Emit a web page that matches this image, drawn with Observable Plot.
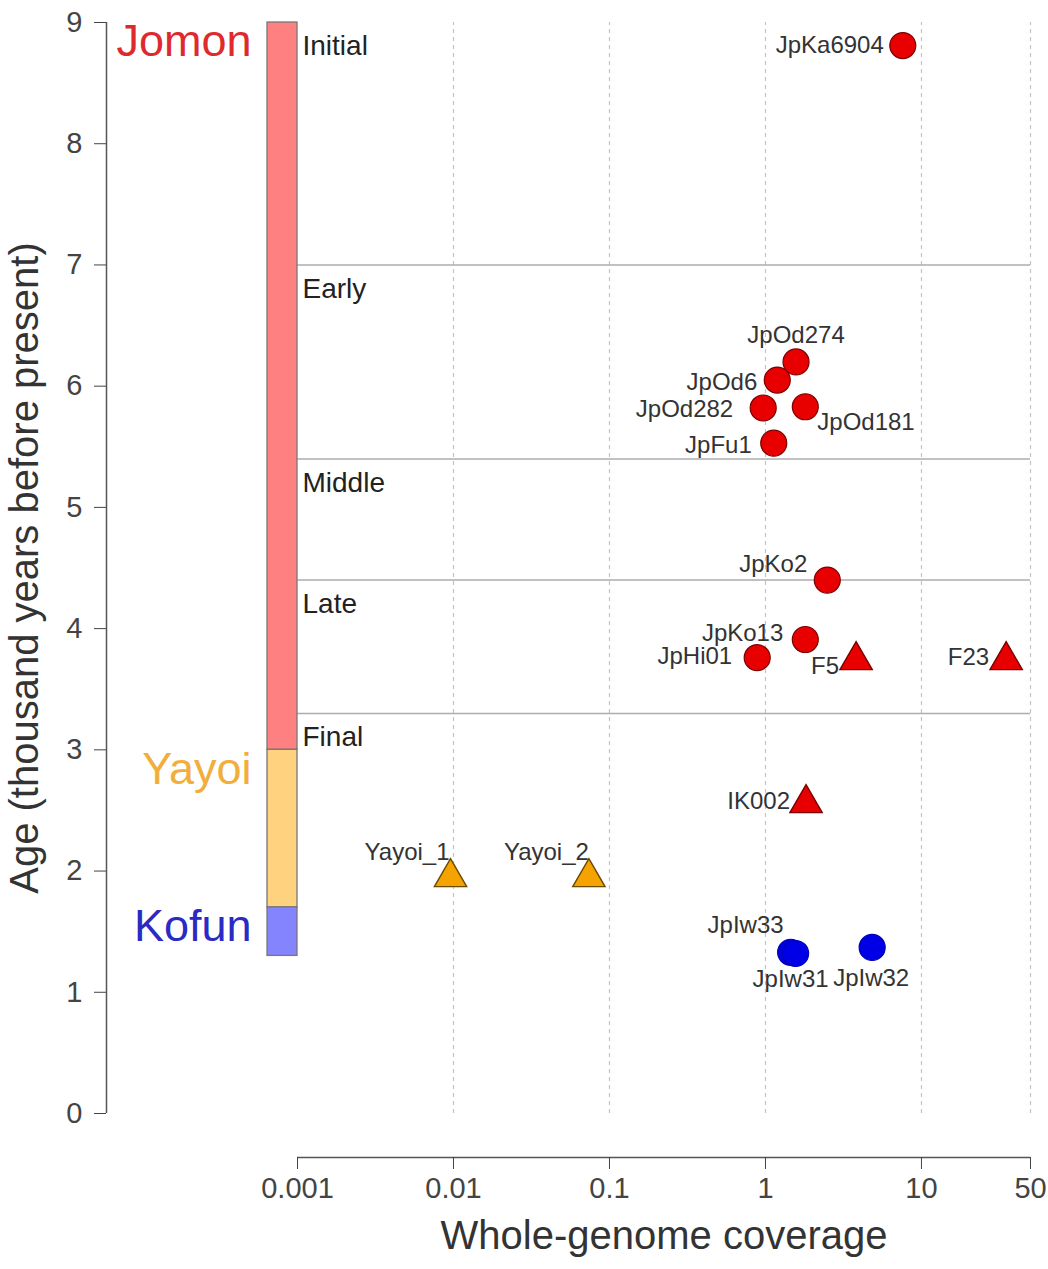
<!DOCTYPE html>
<html>
<head>
<meta charset="utf-8">
<script src="https://cdn.jsdelivr.net/npm/d3@7"></script>
<script src="https://cdn.jsdelivr.net/npm/@observablehq/plot@0.6"></script>
<style>
  html, body { margin: 0; padding: 0; background: #fff; }
  #chart { width: 1048px; height: 1269px; }
</style>
</head>
<body>
<div id="chart"></div>
<script>
// ---- data ----
const xTicks = [0.001, 0.01, 0.1, 1, 10, 50];
const yTicks = [0, 1, 2, 3, 4, 5, 6, 7, 8, 9];

const eraNames = ["Jomon", "Yayoi", "Kofun"];
const eraStart = [9, 3, 1.7];
const eraEnd = [3, 1.7, 1.3];

const phaseNames = ["Initial", "Early", "Middle", "Late", "Final"];
const phaseStart = [9, 7, 5.4, 4.4, 3.3];

const sampleNames = ["JpKa6904", "JpOd274", "JpOd6", "JpOd282", "JpOd181", "JpFu1",
  "JpKo2", "JpKo13", "JpHi01", "F5", "F23", "IK002",
  "Yayoi_1", "Yayoi_2", "JpIw33", "JpIw31", "JpIw32"];
const sampleCoverage = [7.59, 1.57, 1.19, 0.967, 1.80, 1.13,
  2.49, 1.80, 0.885, 3.81, 34.9, 1.82,
  0.00957, 0.0738, 1.45, 1.56, 4.83];
const sampleAge = [8.81, 6.20, 6.05, 5.82, 5.83, 5.53,
  4.40, 3.91, 3.76, 3.78, 3.78, 2.60,
  1.99, 1.99, 1.33, 1.32, 1.37];
const sampleCulture = ["Jomon", "Jomon", "Jomon", "Jomon", "Jomon", "Jomon",
  "Jomon", "Jomon", "Jomon", "Jomon", "Jomon", "Jomon",
  "Yayoi", "Yayoi", "Kofun", "Kofun", "Kofun"];
const sampleShape = ["circle", "circle", "circle", "circle", "circle", "circle",
  "circle", "circle", "circle", "triangle", "triangle", "triangle",
  "triangle", "triangle", "circle", "circle", "circle"];

// ---- styles / layout (kept apart from data) ----
const barFill = {Jomon: "#FF8080", Yayoi: "#FFD27F", Kofun: "#8484FF"};
const eraTextColor = {Jomon: "#DE2A2E", Yayoi: "#F2AE3C", Kofun: "#2A2AC4"};
const dotFill = {Jomon: "#E80000", Yayoi: "#F5A300", Kofun: "#0000E6"};
const dotStroke = {Jomon: "#7A0000", Yayoi: "#6A4A00", Kofun: "#0000B0"};
// [textAnchor, dx, dy]
const labelPlacement = {
  JpKa6904: ["end", -19, 0],
  JpOd274: ["middle", 0, -27],
  JpOd6: ["end", -20, 2],
  JpOd282: ["end", -30, 1],
  JpOd181: ["start", 12, 16],
  JpFu1: ["end", -22, 2],
  JpKo2: ["end", -20, -16],
  JpKo13: ["end", -22, -6],
  JpHi01: ["end", -25, -1],
  F5: ["end", -17, 11],
  F23: ["end", -17, 2],
  IK002: ["end", -16, 3],
  Yayoi_1: ["end", -1, -20],
  Yayoi_2: ["end", 0, -20],
  JpIw33: ["end", -7, -27],
  JpIw31: ["middle", -5, 26],
  JpIw32: ["middle", -1, 31]
};

const eras = eraNames.map((name, i) => ({name, start: eraStart[i], end: eraEnd[i]}));
const phases = phaseNames.map((name, i) => ({name, start: phaseStart[i]}));
const samples = sampleNames.map((name, i) => ({
  name, coverage: sampleCoverage[i], age: sampleAge[i],
  culture: sampleCulture[i], shape: sampleShape[i]
}));

const x0 = xTicks[0], xN = xTicks[xTicks.length - 1];
const y0 = yTicks[0], yN = yTicks[yTicks.length - 1];
const xMid = Math.sqrt(x0 * xN);
const yMid = (y0 + yN) / 2;

const labelMarks = samples.map(s => {
  const [anchor, dx, dy] = labelPlacement[s.name];
  return Plot.text([s], {
    x: "coverage", y: "age", text: "name",
    textAnchor: anchor, dx, dy, fontSize: 24, fill: "#333"
  });
});

const plot = Plot.plot({
  width: 1048,
  height: 1269,
  marginTop: 22,
  marginLeft: 106,
  marginRight: 18,
  marginBottom: 112,
  style: {fontFamily: "'Liberation Sans', Arial, sans-serif", background: "#fff", overflow: "visible"},
  x: {type: "log", domain: [x0, xN], range: [297, 1030]},
  y: {domain: [y0, yN], range: [1113, 22]},
  marks: [
    // dashed vertical grid
    Plot.ruleX(xTicks.slice(1), {y1: y0, y2: yN, stroke: "#c4c4c4", strokeWidth: 1.2, strokeDasharray: "4,4"}),
    // phase boundaries
    Plot.ruleY(phaseStart.slice(1), {x1: x0, x2: xN, stroke: "#adadad", strokeWidth: 1.5}),
    // era bar
    Plot.rect(eras, {
      x1: () => x0, x2: () => x0, y1: "end", y2: "start", insetLeft: -30,
      fill: d => barFill[d.name], stroke: "#777", strokeWidth: 1.3
    }),
    // era labels
    Plot.text(eras, {
      x: () => x0, y: "start", text: "name", textAnchor: "end", lineAnchor: "top",
      dx: -46, dy: 2, fontSize: 45, fill: d => eraTextColor[d.name]
    }),
    // phase labels
    Plot.text(phases, {
      x: () => x0, y: "start", text: "name", textAnchor: "start",
      dx: 5, dy: 24, fontSize: 28, fill: "#222"
    }),
    // y axis
    Plot.ruleX([x0], {y1: y0, y2: yN, dx: -191, stroke: "#555", strokeWidth: 1.5}),
    Plot.axisY({ticks: yTicks, tickSize: 12, tickPadding: 12, fontSize: 29, color: "#444", label: null}),
    // x axis
    Plot.ruleY([y0], {x1: x0, x2: xN, dy: 44, stroke: "#555", strokeWidth: 1.5}),
    Plot.axisX({ticks: xTicks, tickFormat: () => null, tickSize: 12, color: "#444", label: null}),
    Plot.text(xTicks, {x: d => d, text: d => `${d}`, frameAnchor: "bottom", lineAnchor: "top", textAnchor: "middle", dy: 20, fontSize: 29, fill: "#444"}),
    // axis titles
    Plot.text(["Whole-genome coverage"], {x: () => xMid, text: d => d, frameAnchor: "bottom", textAnchor: "middle", dy: 91, fontSize: 40, fill: "#333"}),
    Plot.text(["Age (thousand years before present)"], {y: () => yMid, text: d => d, frameAnchor: "left", textAnchor: "middle", rotate: -90, dx: -81, fontSize: 40, fill: "#333"}),
    // points
    Plot.dot(samples.filter(d => d.shape === "circle"), {
      x: "coverage", y: "age", symbol: "circle", r: 13,
      fill: d => dotFill[d.culture], stroke: d => dotStroke[d.culture], strokeWidth: 1.2
    }),
    Plot.dot(samples.filter(d => d.shape === "triangle"), {
      x: "coverage", y: "age", symbol: "triangle", r: 12, dy: 5,
      fill: d => dotFill[d.culture], stroke: d => dotStroke[d.culture], strokeWidth: 1.4
    }),
    ...labelMarks
  ]
});

document.getElementById("chart").appendChild(plot);
</script>
</body>
</html>
